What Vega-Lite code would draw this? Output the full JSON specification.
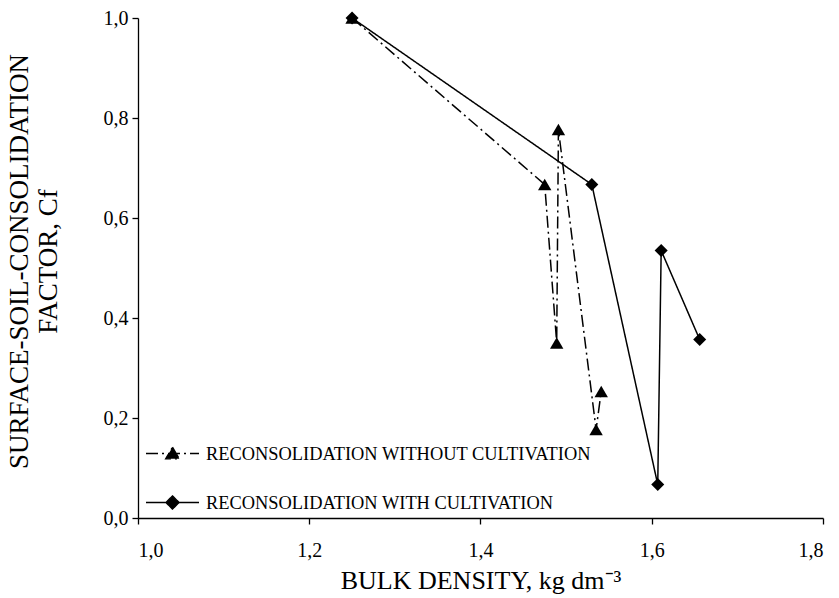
{
  "$schema": "https://vega.github.io/schema/vega-lite/v6.json",
  "width": 685,
  "height": 500,
  "autosize": {"type": "none"},
  "padding": {"left": 138, "top": 18, "right": 16, "bottom": 80},
  "background": "white",
  "config": {
    "view": {"stroke": null},
    "font": "Liberation Serif"
  },
  "data": {
    "values": [
      {"series": "RECONSOLIDATION WITHOUT CULTIVATION", "i": 1, "density": 1.25, "cf": 1.0},
      {"series": "RECONSOLIDATION WITHOUT CULTIVATION", "i": 2, "density": 1.475, "cf": 0.667},
      {"series": "RECONSOLIDATION WITHOUT CULTIVATION", "i": 3, "density": 1.489, "cf": 0.35},
      {"series": "RECONSOLIDATION WITHOUT CULTIVATION", "i": 4, "density": 1.491, "cf": 0.777},
      {"series": "RECONSOLIDATION WITHOUT CULTIVATION", "i": 5, "density": 1.535, "cf": 0.177},
      {"series": "RECONSOLIDATION WITHOUT CULTIVATION", "i": 6, "density": 1.541, "cf": 0.253},
      {"series": "RECONSOLIDATION WITH CULTIVATION", "i": 1, "density": 1.25, "cf": 1.0},
      {"series": "RECONSOLIDATION WITH CULTIVATION", "i": 2, "density": 1.53, "cf": 0.667},
      {"series": "RECONSOLIDATION WITH CULTIVATION", "i": 3, "density": 1.607, "cf": 0.067},
      {"series": "RECONSOLIDATION WITH CULTIVATION", "i": 4, "density": 1.611, "cf": 0.535},
      {"series": "RECONSOLIDATION WITH CULTIVATION", "i": 5, "density": 1.656, "cf": 0.357}
    ]
  },
  "encoding": {
    "x": {
      "field": "density",
      "type": "quantitative",
      "scale": {"domain": [1.0, 1.8], "nice": false, "zero": false},
      "axis": {
        "grid": false,
        "values": [1.0, 1.2, 1.4, 1.6, 1.8],
        "labelExpr": "replace(format(datum.value, '.1f'), '.', ',')",
        "labelFont": "Liberation Serif",
        "labelFontSize": 20,
        "labelColor": "black",
        "labelPadding": 16,
        "domainColor": "black",
        "domainWidth": 1.3,
        "tickColor": "black",
        "tickWidth": 1.3,
        "tickSize": 6,
        "title": "BULK DENSITY, kg dm⁻³",
        "titleFont": "Liberation Serif",
        "titleFontSize": 26,
        "titleFontWeight": "normal",
        "titleColor": "black",
        "titleBaseline": "alphabetic",
        "titleY": 70
      }
    },
    "y": {
      "field": "cf",
      "type": "quantitative",
      "scale": {"domain": [0, 1], "nice": false},
      "axis": {
        "grid": false,
        "values": [0, 0.2, 0.4, 0.6, 0.8, 1.0],
        "labelExpr": "replace(format(datum.value, '.1f'), '.', ',')",
        "labelFont": "Liberation Serif",
        "labelFontSize": 20,
        "labelColor": "black",
        "labelPadding": 4,
        "domainColor": "black",
        "domainWidth": 1.3,
        "tickColor": "black",
        "tickWidth": 1.3,
        "tickSize": 6,
        "title": ["SURFACE-SOIL-CONSOLIDATION", "FACTOR, Cf"],
        "titleFont": "Liberation Serif",
        "titleFontSize": 27,
        "titleFontWeight": "normal",
        "titleColor": "black",
        "titleAngle": -90,
        "titleAlign": "center",
        "titleBaseline": "alphabetic",
        "titleLineHeight": 29,
        "titleX": -111,
        "titleY": 243
      }
    }
  },
  "layer": [
    {
      "mark": {"type": "line", "color": "black", "strokeWidth": 1.5},
      "encoding": {
        "order": {"field": "i", "type": "quantitative"},
        "strokeDash": {
          "field": "series",
          "type": "nominal",
          "scale": {
            "domain": ["RECONSOLIDATION WITHOUT CULTIVATION", "RECONSOLIDATION WITH CULTIVATION"],
            "range": [[12, 4, 2, 4], [1, 0]]
          },
          "legend": {
            "title": null,
            "orient": "none",
            "legendX": 7,
            "legendY": 408,
            "symbolType": {
              "expr": "datum.value == 'RECONSOLIDATION WITHOUT CULTIVATION' ? 'M-1,0L1,0M0,-0.24L0.26,0.2L-0.26,0.2Z' : 'M-1,0L1,0M0,-0.25L0.25,0L0,0.25L-0.25,0Z'"
            },
            "symbolSize": 2809,
            "symbolFillColor": "black",
            "symbolStrokeColor": "black",
            "symbolStrokeWidth": 1.3,
            "symbolOpacity": 1,
            "labelFont": "Liberation Serif",
            "labelFontSize": 18.4,
            "labelColor": "black",
            "labelOffset": 6,
            "labelLimit": 0,
            "rowPadding": 12
          }
        }
      }
    },
    {
      "transform": [{"filter": "datum.series == 'RECONSOLIDATION WITHOUT CULTIVATION'"}],
      "mark": {"type": "point", "shape": "triangle-up", "filled": true, "color": "black", "opacity": 1, "size": 180}
    },
    {
      "transform": [{"filter": "datum.series == 'RECONSOLIDATION WITH CULTIVATION'"}],
      "mark": {"type": "point", "shape": "diamond", "filled": true, "color": "black", "opacity": 1, "size": 170}
    }
  ]
}
